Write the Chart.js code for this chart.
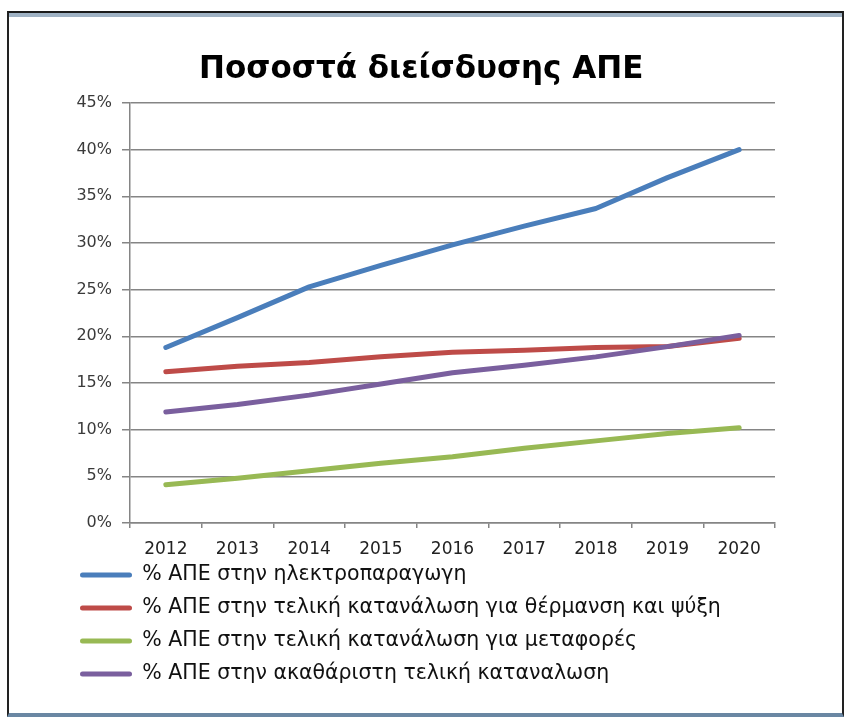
<!DOCTYPE html>
<html>
<head>
<meta charset="utf-8">
<script src="https://cdn.jsdelivr.net/npm/chart.js@4/dist/chart.umd.min.js"></script>
<style>
  html, body { margin: 0; padding: 0; background: #fff; }
  #frame {
    position: absolute; left: 7px; top: 11px; width: 837px; height: 706px;
    box-sizing: border-box;
    border-top: 2px solid #1a1a1a; border-left: 2px solid #222; border-right: 2px solid #222;
    border-bottom: 4px solid #6a87a3;
    box-shadow: inset 0 4px 0 #9fb2c4;
  }
  #wrap { position: absolute; left: 0; top: 0; width: 851px; height: 724px; }
</style>
</head>
<body>
<div id="frame"></div>
<div id="wrap"><canvas id="ape_chart" width="851" height="724"></canvas></div>
<script>
const years = ["2012", "2013", "2014", "2015", "2016", "2017", "2018", "2019", "2020"];

const elec_share = [18.8, 22.0, 25.3, 27.6, 29.8, 31.8, 33.7, 37.0, 40.0];
const heat_cool_share = [16.2, 16.8, 17.2, 17.8, 18.3, 18.5, 18.8, 18.9, 19.8];
const transport_share = [4.1, 4.8, 5.6, 6.4, 7.1, 8.0, 8.8, 9.6, 10.2];
const gross_share = [11.9, 12.7, 13.7, 14.9, 16.1, 16.9, 17.8, 18.9, 20.1];

const series_names = [
    "% ΑΠΕ στην ηλεκτροπαραγωγη",
    "% ΑΠΕ στην τελική κατανάλωση για θέρμανση και ψύξη",
    "% ΑΠΕ στην τελική κατανάλωση για μεταφορές",
    "% ΑΠΕ στην ακαθάριστη τελική καταναλωση"
];
const series_colors = ["#4a7ebb", "#be4b48", "#98b954", "#7a5f9e"];

const y_ticks_max = 45;
const y_ticks_step = 5;

function make_dataset(ind, values, order) {
    return {
        label: series_names[ind],
        data: values,
        borderColor: series_colors[ind],
        backgroundColor: series_colors[ind],
        borderWidth: 5,
        borderCapStyle: "round",
        borderJoinStyle: "round",
        pointRadius: 0,
        tension: 0,
        order: order
    };
}

// x labels need room below the axis, so the legend is pulled up a bit after layout
const legend_shift = {
    id: "legend_shift",
    afterLayout: function (chart) {
        chart.legend.top -= 6.75;
        chart.legend.bottom -= 6.75;
    }
};

const axis_grey = "#858585";
const pad_left = 67.5;

const ape_chart = new Chart(
    document.getElementById("ape_chart"),
    {
        type: "line",
        data: {
            labels: years,
            datasets: [
                make_dataset(0, elec_share, 0),
                make_dataset(1, heat_cool_share, 1),
                make_dataset(2, transport_share, 0),
                make_dataset(3, gross_share, 0),
            ]
        },
        plugins: [legend_shift],
        options: {
            responsive: false,
            animation: false,
            layout: { padding: { left: pad_left, right: 76, top: 0, bottom: 23 } },
            plugins: {
                title: {
                    display: true,
                    text: "Ποσοστά διείσδυσης ΑΠΕ",
                    color: "#000",
                    font: { family: "'DejaVu Sans'", size: 31, weight: "bold", lineHeight: 1.2 },
                    padding: { top: 51.8, bottom: 14 }
                },
                legend: {
                    position: "bottom",
                    align: "start",
                    labels: {
                        color: "#111",
                        font: { family: "'DejaVu Sans'", size: 20.5 },
                        boxWidth: 52,
                        boxHeight: 5,
                        padding: 12.5,
                        sort: function (a, b) { return a.datasetIndex - b.datasetIndex; },
                        generateLabels: function (chart) {
                            const items = Chart.defaults.plugins.legend.labels.generateLabels(chart);
                            return items.map(function (item) {
                                item.fillStyle = series_colors[item.datasetIndex];
                                item.lineWidth = 0;
                                item.borderRadius = 2.5;
                                return item;
                            });
                        }
                    }
                },
                tooltip: { enabled: false }
            },
            scales: {
                x: {
                    offset: true,
                    afterFit: function (scale) { scale.height = 36; },
                    grid: {
                        offset: true,
                        drawOnChartArea: false,
                        tickLength: 5,
                        color: axis_grey,
                        lineWidth: 1.5
                    },
                    border: { color: axis_grey, width: 1.5 },
                    ticks: {
                        color: "#222",
                        font: { family: "'DejaVu Sans'", size: 17 },
                        padding: 11,
                        maxRotation: 0
                    }
                },
                y: {
                    min: 0,
                    max: y_ticks_max,
                    afterFit: function (scale) { scale.width = 130 - pad_left; },
                    grid: {
                        color: axis_grey,
                        lineWidth: 1.5,
                        tickLength: 8
                    },
                    border: { color: axis_grey, width: 1.5 },
                    ticks: {
                        stepSize: y_ticks_step,
                        color: "#3a3a3a",
                        font: { family: "'DejaVu Sans'", size: 16 },
                        padding: 10,
                        callback: function (v) { return v + "%"; }
                    }
                }
            }
        }
    }
);
</script>
</body>
</html>
